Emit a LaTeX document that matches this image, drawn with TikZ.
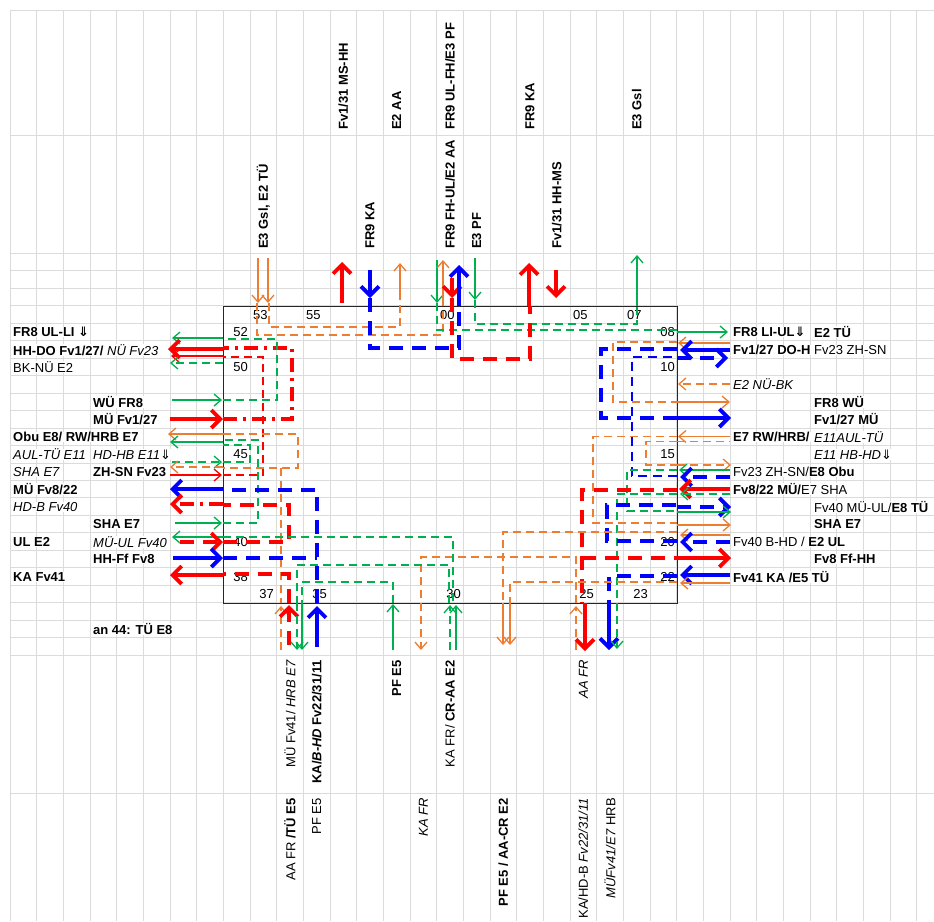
\documentclass[tikz,border=0pt]{standalone}
\usepackage{fontspec}
\setmainfont{Liberation Sans}
\newfontfamily\symfont{DejaVu Sans}
\usetikzlibrary{arrows.meta}
\definecolor{trgreen}{RGB}{0,176,80}
\definecolor{trorange}{RGB}{237,125,49}
\definecolor{trred}{RGB}{255,0,0}
\definecolor{trblue}{RGB}{0,0,255}
\newcommand{\dnarrow}{{\symfont ⇓}}
\tikzset{
  gridline/.style={draw=black!14, line width=0.8pt},
  lite/.style={line width=1.3pt},
  heavy/.style={line width=3.8pt},
  litedash/.style={line width=1.3pt, dash pattern=on 8pt off 5pt},
  heavydash/.style={line width=3.8pt, dash pattern=on 14pt off 9pt},
  heavydot/.style={line width=3.8pt, dash pattern=on 14pt off 6pt on 3pt off 6pt},
  hhead/.style={-{Straight Barb[length=9pt,width=18pt]}},
  lbl/.style={fill=white, anchor=west},
  vlbl/.style={rotate=90, fill=white}
}
\begin{document}
\begin{tikzpicture}[x=1pt, y=-1pt, >={Straight Barb[length=7pt,width=12pt]},
    every node/.style={font=\fontsize{13}{15}\selectfont, inner xsep=1pt, inner ysep=0.3pt}]
\useasboundingbox (0,0) rectangle (934,921);
\fill[white] (0,0) rectangle (934,921);
\foreach \j in {0,...,34}
  \draw[gridline] ({10+26.667*\j},10.7) -- ({10+26.667*\j},921);
\foreach \y in {10.7,135,793}
  \draw[gridline] (10,\y) -- (934,\y);
\foreach \k in {0,...,23}
  \draw[gridline] (10,{253.3+17.47*\k}) -- (934,{253.3+17.47*\k});
\draw[line width=1pt, black!85] (223.3,306) rectangle (677,603);

% left labels
\node[lbl] (wa1) at (12,332.2) {\textbf{FR8 UL-LI \dnarrow}};
\node[lbl] (wa2) at (12,349.7) {\textbf{HH-DO Fv1/27/} \textit{NÜ Fv23}};
\node[lbl] (wa3) at (12,367.1) {BK-NÜ E2};
\node[lbl] (wa7) at (12,437.0) {\textbf{Obu E8/ RW/HRB E7}};
\node[lbl] (wa8) at (12,454.5) {\textit{AUL-TÜ E11}};
\node[lbl] (wa9) at (12,472.0) {\textit{SHA E7}};
\node[lbl] (wa10) at (12,489.4) {\textbf{MÜ Fv8/22}};
\node[lbl] (wa11) at (12,506.9) {\textit{HD-B Fv40}};
\node[lbl] (wa13) at (12,541.8) {\textbf{UL E2}};
\node[lbl] (wa15) at (12,576.8) {\textbf{KA Fv41}};
\node[lbl] (wd5) at (92,402.1) {\textbf{WÜ FR8}};
\node[lbl] (wd6) at (92,419.5) {\textbf{MÜ Fv1/27}};
\node[lbl] (wd8) at (92,454.5) {\textit{HD-HB E11}\dnarrow};
\node[lbl] (wd9) at (92,472.0) {\textbf{ZH-SN Fv23}};
\node[lbl] (wd12) at (92,524.4) {\textbf{SHA E7}};
\node[lbl] (wd13) at (92,541.8) {\textit{MÜ-UL Fv40}};
\node[lbl] (wd14) at (92,559.3) {\textbf{HH-Ff Fv8}};
\node[lbl] (wd18) at (92,629.2) {\textbf{an 44: TÜ E8}};

% right labels
\node[lbl] (ea1) at (732,332.2) {\textbf{FR8 LI-UL\dnarrow}};
\node[lbl] (eb1) at (813,332.2) {\textbf{E2 TÜ}};
\node[lbl] (ea2) at (732,349.7) {\textbf{Fv1/27 DO-H}};
\node[lbl] (eb2) at (813,349.7) {Fv23 ZH-SN};
\node[lbl] (ea4) at (732,384.6) {\textit{E2 NÜ-BK}};
\node[lbl] (eb5) at (813,402.1) {\textbf{FR8 WÜ}};
\node[lbl] (eb6) at (813,419.5) {\textbf{Fv1/27 MÜ}};
\node[lbl] (ea7) at (732,437.0) {\textbf{E7 RW/HRB/}};
\node[lbl] (eb7) at (813,437.0) {\textit{E11AUL-TÜ}};
\node[lbl] (eb8) at (813,454.5) {\textit{E11 HB-HD}\dnarrow};
\node[lbl] (ea9) at (732,472.0) {Fv23 ZH-SN/\textbf{E8 Obu}};
\node[lbl] (ea10) at (732,489.4) {\textbf{Fv8/22 MÜ/}E7 SHA};
\node[lbl] (eb11) at (813,506.9) {Fv40 MÜ-UL/\textbf{E8 TÜ}};
\node[lbl] (eb12) at (813,524.4) {\textbf{SHA E7}};
\node[lbl] (ea13) at (732,541.8) {Fv40 B-HD / \textbf{E2 UL}};
\node[lbl] (eb14) at (813,559.3) {\textbf{Fv8 Ff-HH}};
\node[lbl] (ea15) at (732,576.8) {\textbf{Fv41 KA /E5 TÜ}};

% top labels
\node[vlbl, anchor=west] (tu12) at (343.3,131) {\textbf{Fv1/31 MS-HH}};
\node[vlbl, anchor=west] (tu14) at (396.7,131) {\textbf{E2 AA}};
\node[vlbl, anchor=west] (tu16) at (450,131) {\textbf{FR9 UL-FH/E3 PF}};
\node[vlbl, anchor=west] (tu19) at (530,131) {\textbf{FR9 KA}};
\node[vlbl, anchor=west] (tu23) at (636.7,131) {\textbf{E3 Gsl}};
\node[vlbl, anchor=west] (tl9) at (263.3,250) {\textbf{E3 Gsl, E2 TÜ}};
\node[vlbl, anchor=west] (tl13) at (370,250) {\textbf{FR9 KA}};
\node[vlbl, anchor=west] (tl16) at (450,250) {\textbf{FR9 FH-UL/E2 AA}};
\node[vlbl, anchor=west] (tl17) at (476.7,250) {\textbf{E3 PF}};
\node[vlbl, anchor=west] (tl20) at (556.7,250) {\textbf{Fv1/31 HH-MS}};

% bottom labels
\node[vlbl, anchor=east] (bu10) at (290,659) {MÜ Fv41/ \textit{HRB E7}};
\node[vlbl, anchor=east] (bu11) at (316.7,659) {\textbf{KA/\textit{B-HD} Fv22/31/11}};
\node[vlbl, anchor=east] (bu14) at (396.7,659) {\textbf{PF E5}};
\node[vlbl, anchor=east] (bu16) at (450,659) {KA FR/ \textbf{CR-AA E2}};
\node[vlbl, anchor=east] (bu21) at (583.3,659) {\textit{AA FR}};
\node[vlbl, anchor=east] (bl10) at (290,797) {AA FR \textbf{/TÜ E5}};
\node[vlbl, anchor=east] (bl11) at (316.7,797) {PF E5};
\node[vlbl, anchor=east] (bl15) at (423.3,797) {\textit{KA FR}};
\node[vlbl, anchor=east] (bl18) at (503.3,797) {\textbf{PF E5 / AA-CR E2}};
\node[vlbl, anchor=east] (bl21) at (583.3,797) {KA/HD-B \textit{Fv22/31/11}};
\node[vlbl, anchor=east] (bl22) at (610,797) {\textit{MÜFv41/E7} HRB};

% track numbers
\node[anchor=west] (n53) at (252,314.7) {53};
\node[anchor=west] (n55) at (305,314.7) {55};
\node[anchor=west] (n00) at (439,314.7) {00};
\node[anchor=west] (n05) at (572,314.7) {05};
\node[anchor=west] (n07) at (626,314.7) {07};
\node[anchor=east] (n52) at (249,332.2) {52};
\node[anchor=east] (n50) at (249,367.1) {50};
\node[anchor=east] (n45) at (249,454.5) {45};
\node[anchor=east] (n40) at (249,541.8) {40};
\node[anchor=east] (n38) at (249,576.8) {38};
\node[anchor=east] (n08) at (676,332.2) {08};
\node[anchor=east] (n10) at (676,367.1) {10};
\node[anchor=east] (n15) at (676,454.5) {15};
\node[anchor=east] (n20) at (676,541.8) {20};
\node[anchor=east] (n22) at (676,576.8) {22};
\node[anchor=east] (n37) at (275,594.2) {37};
\node[anchor=east] (n35) at (328,594.2) {35};
\node[anchor=east] (n30) at (462,594.2) {30};
\node[anchor=east] (n25) at (595,594.2) {25};
\node[anchor=east] (n23) at (649,594.2) {23};

% routes inside the station
\draw[litedash, trorange] (269,303) -- (269,327) -- (400,327) -- (400,293);
\draw[litedash, trorange] (257,303) -- (257,335) -- (443,335) -- (443,300);
\draw[litedash, trgreen] (437,303) -- (437,330) -- (677,330);
\draw[litedash, trgreen] (475,300) -- (475,324) -- (637,324) -- (637,306);
\draw[heavydash, trred] (452,298) -- (452,359) -- (530,359) -- (530,306);
\draw[heavydash, trblue] (370,298) -- (370,348) -- (459,348) -- (459,306);
\draw[heavydash, trblue] (677,349) -- (601,349) -- (601,418) -- (677,418);
\draw[line width=2pt, dash pattern=on 9pt off 6pt, trblue] (677,476) -- (632,476) -- (632,357) -- (677,357);
\draw[litedash, trorange] (677,342) -- (613,342) -- (613,402) -- (677,402);
\draw[litedash, trorange] (677,436.5) -- (593,436.5) -- (593,523) -- (677,523);
\draw[litedash, trorange] (677,441.5) -- (646,441.5) -- (646,465) -- (677,465);
\draw[litedash, trgreen] (677,470) -- (627,470) -- (627,511) -- (677,511);
\draw[litedash, trgreen] (677,494) -- (617,494) -- (617,603);
\draw[heavydash, trblue] (677,541) -- (607,541) -- (607,505) -- (677,505);
\draw[heavydash, trred] (677,490) -- (582,490) -- (582,603);
\draw[heavydash, trred] (582,558) -- (677,558);
\draw[heavydash, trblue] (677,576) -- (609,576) -- (609,603);
\draw[litedash, trorange] (677,532) -- (503,532) -- (503,603);
\draw[litedash, trorange] (677,582) -- (510,582) -- (510,603);
\draw[litedash, trorange] (576,603) -- (576,557) -- (421,557) -- (421,603);
\draw[heavydot, trred] (223,419) -- (292,419) -- (292,348) -- (223,348);
\draw[litedash, trred] (223,475) -- (263,475) -- (263,357) -- (223,357);
\draw[litedash, trgreen] (223,400) -- (277,400) -- (277,339) -- (223,339);
\draw[litedash, trorange] (223,434) -- (298,434) -- (298,468) -- (223,468);
\draw[litedash, trorange] (281,468) -- (281,603);
\draw[litedash, trgreen] (223,523) -- (258,523) -- (258,440) -- (223,440);
\draw[litedash, trgreen] (223,462) -- (250,462) -- (250,445) -- (223,445);
\draw[heavydash, trblue] (317,603) -- (317,490) -- (223,490);
\draw[heavydash, trblue] (223,558) -- (317,558);
\draw[heavydash, trred] (289,603) -- (289,574) -- (223,574);
\draw[heavydash, trred] (223,542) -- (289,542) -- (289,505) -- (223,505);
\draw[litedash, trgreen] (223,537) -- (453,537) -- (453,603);
\draw[litedash, trgreen] (449,603) -- (449,565) -- (297,565) -- (297,603);
\draw[litedash, trgreen] (393,603) -- (393,582) -- (302,582) -- (302,603);

% arrows at the top
\draw[lite, trorange, ->] (258,258) -- (258,303);
\draw[lite, trorange, ->] (268,258) -- (268,303);
\draw[heavy, trred, hhead] (342,303) -- (342,262);
\draw[heavy, trblue, hhead] (370,270) -- (370,298);
\draw[lite, trorange, ->] (400,293) -- (400,263);
\draw[lite, trgreen, ->] (437,260) -- (437,303);
\draw[lite, trorange, ->] (443,300) -- (443,260);
\draw[heavy, trred, hhead] (452,278) -- (452,298);
\draw[heavy, trblue, hhead] (459,306) -- (459,265);
\draw[lite, trgreen, ->] (475,258) -- (475,300);
\draw[heavy, trred, hhead] (529,306) -- (529,263);
\draw[heavy, trred, hhead] (556,270) -- (556,298);
\draw[lite, trgreen, ->] (637,306) -- (637,255);

% arrows at the bottom
\draw[litedash, trorange, ->] (281,650) -- (281,606);
\draw[heavydash, trred, hhead] (289,645) -- (289,605);
\draw[litedash, trgreen, ->] (297,603) -- (297,650);
\draw[lite, trgreen, ->] (302,603) -- (302,650);
\draw[heavy, trblue, hhead] (317,647) -- (317,606);
\draw[lite, trgreen, ->] (393,650) -- (393,604);
\draw[litedash, trorange, ->] (421,603) -- (421,650);
\draw[litedash, trgreen, ->] (450,650) -- (450,605);
\draw[lite, trgreen, ->] (456,650) -- (456,605);
\draw[lite, trorange, ->] (503,603) -- (503,645);
\draw[lite, trorange, ->] (510,603) -- (510,645);
\draw[litedash, trorange, ->] (576,650) -- (576,606);
\draw[heavy, trred, hhead] (585,603) -- (585,651);
\draw[heavy, trblue, hhead] (609,603) -- (609,650);
\draw[litedash, trgreen, ->] (617,603) -- (617,649);

% arrows on the left
\draw[lite, trgreen, ->] (223,338) -- (172,338);
\draw[heavy, trred, hhead] (223,349) -- (168,349);
\draw[lite, trred, ->] (223,356) -- (171,356);
\draw[litedash, trgreen, ->] (223,363) -- (170,363);
\draw[lite, trgreen, ->] (172,400) -- (222,400);
\draw[heavy, trred, hhead] (170,419) -- (223,419);
\draw[lite, trorange, ->] (223,434) -- (168,434);
\draw[lite, trgreen, ->] (223,442) -- (170,442);
\draw[litedash, trgreen, ->] (172,462) -- (222,462);
\draw[litedash, trorange, ->] (223,467) -- (170,467);
\draw[lite, trred, ->] (170,475) -- (222,475);
\draw[heavy, trblue, hhead] (223,489) -- (170,489);
\draw[heavydot, trred, hhead] (223,504) -- (170,504);
\draw[lite, trgreen, ->] (175,523) -- (222,523);
\draw[lite, trgreen, ->] (223,537) -- (172,537);
\draw[heavydash, trred, hhead] (180,542) -- (223,542);
\draw[heavy, trblue, hhead] (173,558) -- (223,558);
\draw[heavy, trred, hhead] (223,575) -- (170,575);

% arrows on the right
\draw[lite, trgreen, ->] (677,332) -- (728,332);
\draw[lite, trorange, ->] (730,343) -- (678,343);
\draw[heavy, trblue, hhead] (730,350) -- (680,350);
\draw[heavydash, trblue, hhead] (677,358) -- (728,358);
\draw[litedash, trorange, ->] (730,384) -- (678,384);
\draw[lite, trorange, ->] (677,402) -- (730,402);
\draw[heavy, trblue, hhead] (677,418) -- (731,418);
\draw[lite, trorange, ->] (730,436.5) -- (678,436.5);
\draw[litedash, trorange] (677,441.5) -- (730,441.5);
\draw[litedash, trorange, ->] (677,465) -- (731,465);
\draw[lite, trgreen, ->] (730,470) -- (679,470);
\draw[heavydash, trblue, hhead] (730,477) -- (680,477);
\draw[heavy, trred, hhead] (730,489) -- (679,489);
\draw[litedash, trgreen, ->] (730,494) -- (680,494);
\draw[heavydash, trblue, hhead] (677,507) -- (731,507);
\draw[lite, trgreen, ->] (677,512) -- (731,512);
\draw[lite, trorange, ->] (677,525) -- (731,525);
\draw[lite, trorange, ->] (730,535) -- (680,535);
\draw[heavydash, trblue, hhead] (730,542) -- (680,542);
\draw[heavy, trred, hhead] (677,558) -- (731,558);
\draw[heavy, trblue, hhead] (730,575) -- (680,575);
\draw[lite, trorange, ->] (730,583) -- (680,583);
\end{tikzpicture}
\end{document}
